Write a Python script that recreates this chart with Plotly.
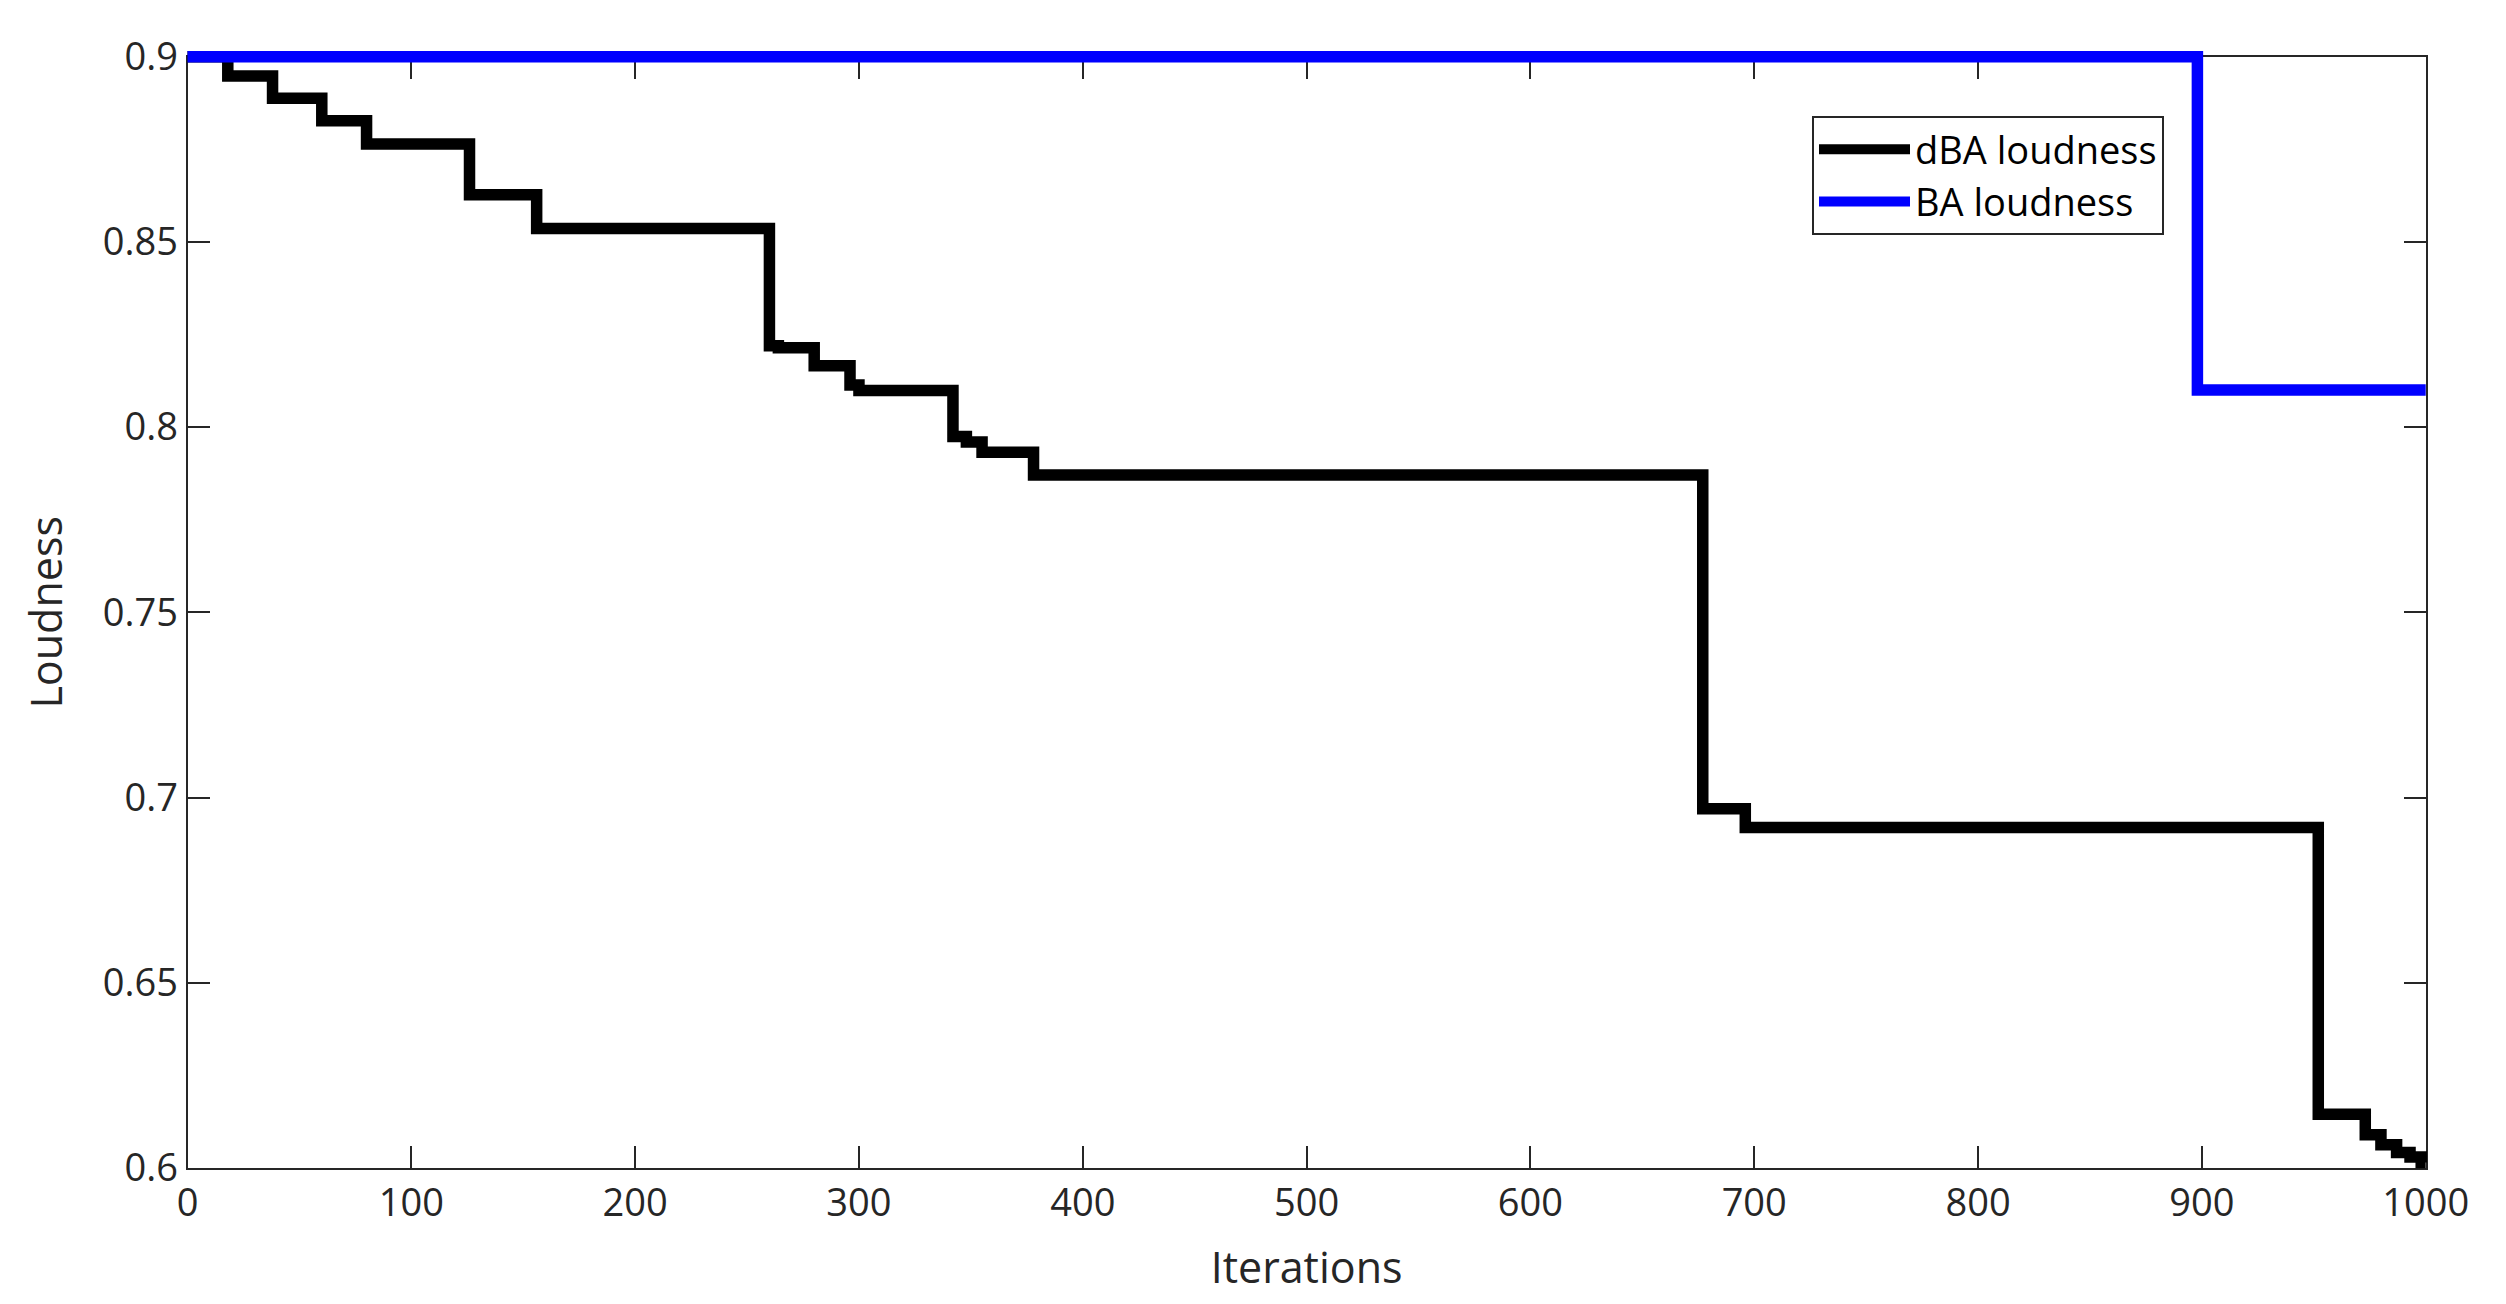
import plotly.graph_objects as go

# ---- data ----
dba_iter = [0, 18, 38, 60, 80, 126, 156, 260, 264, 280, 296, 300, 342, 348, 355, 378,
            677, 696, 952, 973, 980, 987, 993, 998, 1000]
dba_loud = [0.9, 0.8948, 0.8888, 0.8827, 0.8764, 0.8627, 0.8536, 0.822, 0.8214, 0.8166,
            0.8114, 0.8099, 0.7975, 0.796, 0.7932, 0.7871, 0.697, 0.6919, 0.6145, 0.609,
            0.6063, 0.6042, 0.603, 0.6015, 0.6015]
ba_iter = [0, 898, 1000]
ba_loud = [0.9, 0.81, 0.81]

x_range = [0, 1000]
y_range = [0.6, 0.9]
x_ticks = [0, 100, 200, 300, 400, 500, 600, 700, 800, 900, 1000]
y_ticks = [0.6, 0.65, 0.7, 0.75, 0.8, 0.85, 0.9]
y_ticklabels = ["0.6", "0.65", "0.7", "0.75", "0.8", "0.85", "0.9"]

# ---- layout geometry (page body has an 8px margin) ----
OFF = 8
W, H = 2506 - 2 * OFF, 1304 - 2 * OFF
ML, MR, MT, MB = 140, 30, 15, 90
PW, PH = W - ML - MR, H - MT - MB
# visible axes box in page pixels, shifted into figure coordinates
bx0, bx1, by0, by1 = 187.5 - OFF, 2425.7 - OFF, 56.7 - OFF, 1168.0 - OFF
xd = [(bx0 - ML) / PW, (bx1 - ML) / PW]
yd = [(H - MB - by1) / PH, (H - MB - by0) / PH]


def ext(rng, dom):
    span = (rng[1] - rng[0]) / (dom[1] - dom[0])
    return [rng[0] - dom[0] * span, rng[1] + (1 - dom[1]) * span]


FONT = "Open Sans"
AX = "#262626"

fig = go.Figure()
# empty trace so that the framed (visible) axes get drawn
fig.add_trace(go.Scatter(x=[None], y=[None], mode="lines", showlegend=False,
                         hoverinfo="skip", xaxis="x", yaxis="y"))
fig.add_trace(go.Scatter(x=dba_iter, y=dba_loud, mode="lines", name="dBA loudness",
                         line=dict(color="black", width=11.5, shape="hv"),
                         xaxis="x2", yaxis="y2"))
fig.add_trace(go.Scatter(x=ba_iter, y=ba_loud, mode="lines", name="BA loudness",
                         line=dict(color="#0000ff", width=11.5, shape="hv"),
                         xaxis="x2", yaxis="y2"))

axcommon = dict(showgrid=False, zeroline=False, showline=True, linecolor=AX, linewidth=2,
                mirror="ticks", ticks="inside", ticklen=22, tickwidth=2, tickcolor=AX,
                automargin=False,
                tickfont=dict(family=FONT, size=38, color=AX))

fig.update_layout(
    template="none",
    width=W, height=H,
    margin=dict(l=ML, r=MR, t=MT, b=MB, pad=0, autoexpand=False),
    paper_bgcolor="white", plot_bgcolor="rgba(0,0,0,0)",
    font=dict(family=FONT, color=AX),
    xaxis=dict(domain=xd, range=x_range, tickvals=x_ticks, anchor="y",
               title=dict(text="Iterations", font=dict(family=FONT, size=43, color=AX), standoff=36),
               **axcommon),
    yaxis=dict(domain=yd, range=y_range, tickvals=y_ticks, ticktext=y_ticklabels, anchor="x",
               title=dict(text="Loudness", font=dict(family=FONT, size=43, color=AX), standoff=27),
               **axcommon),
    xaxis2=dict(domain=[0, 1], range=ext(x_range, xd), anchor="y2", visible=False,
                automargin=False),
    yaxis2=dict(domain=[0, 1], range=ext(y_range, yd), anchor="x2", visible=False,
                automargin=False),
    showlegend=True,
    legend=dict(x=(2164 - OFF - ML) / PW, y=(H - MB - (116 - OFF)) / PH,
                xanchor="right", yanchor="top",
                bgcolor="white", bordercolor=AX, borderwidth=2,
                font=dict(family=FONT, size=38, color="black"),
                tracegroupgap=0, itemwidth=91),
)

fig.write_html("out.html")
